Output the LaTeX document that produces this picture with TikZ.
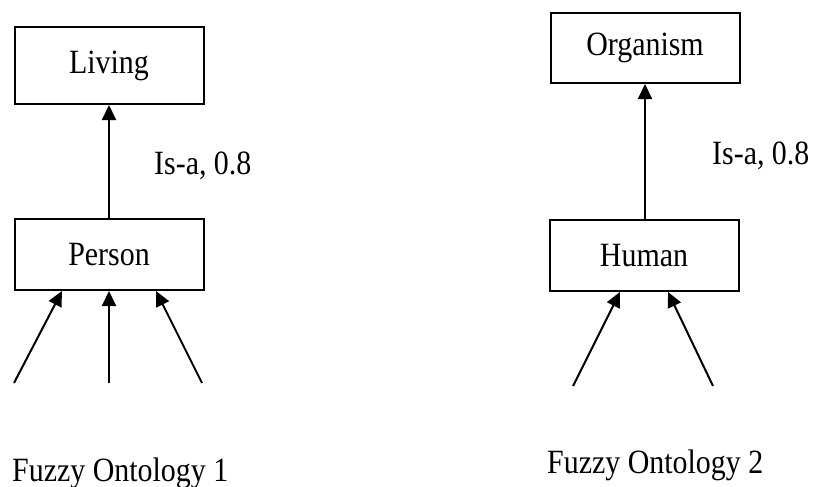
\documentclass[tikz,border=0pt]{standalone}
\usepackage{fontspec}
\setmainfont{Liberation Serif}[FakeStretch=0.88]
\usetikzlibrary{arrows.meta}
\begin{document}
\begin{tikzpicture}[x=1pt,y=-1pt,
  every node/.style={font=\fontsize{34}{40}\selectfont},
  concept/.style={draw,line width=2pt,inner sep=0pt,minimum width=189pt},
  isa/.style={line width=2pt,-{Triangle[length=15pt,width=14pt]}},
  lbl/.style={anchor=base west,inner sep=0pt}]
  \useasboundingbox (0,0) rectangle (814,487);

  % Fuzzy ontology 1
  \node[concept,minimum height=77pt] (living) at (109,65.5) {Living};
  \node[concept,minimum height=71pt] (person) at (109,254.5) {Person};
  \draw[isa] (person.north) -- (living.south);
  \node[lbl] (isa1) at (154,174) {Is-a, 0.8};

  \coordinate (p1) at (14,383);
  \coordinate (p2) at (109,383);
  \coordinate (p3) at (202,383);
  \draw[isa] (p1) -- ([xshift=-47pt]person.south);
  \draw[isa] (p2) -- (person.south);
  \draw[isa] (p3) -- ([xshift=47pt]person.south);

  \node[lbl] (cap1) at (12,481) {Fuzzy Ontology 1};

  % Fuzzy ontology 2
  \node[concept,minimum height=70pt] (organism) at (645,48) {Organism};
  \node[concept,minimum height=71pt] (human) at (644,255.5) {Human};
  \draw[isa] (human.north -| organism.south) -- (organism.south);
  \node[lbl] (isa2) at (712,164) {Is-a, 0.8};

  \coordinate (h1) at (573,386);
  \coordinate (h2) at (713,386);
  \draw[isa] (h1) -- ([xshift=-24pt]human.south);
  \draw[isa] (h2) -- ([xshift=24pt]human.south);

  \node[lbl] (cap2) at (547,473) {Fuzzy Ontology 2};
\end{tikzpicture}
\end{document}
